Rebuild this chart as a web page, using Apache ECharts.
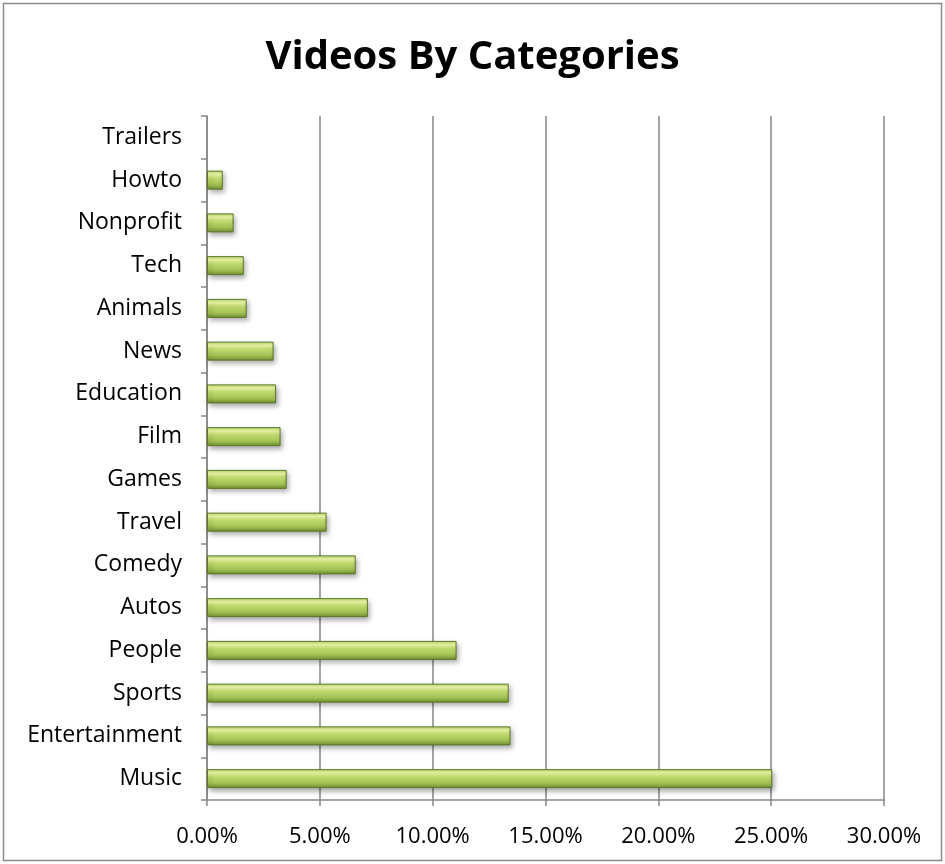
<!DOCTYPE html>
<html>
<head>
<meta charset="utf-8">
<script src="https://cdn.jsdelivr.net/npm/echarts@6/dist/echarts.min.js"></script>
<style>
html,body{margin:0;padding:0;background:#fff;}
#c{width:945px;height:864px;}
</style>
</head>
<body>
<div id="c"></div>
<script>
const titleText = 'Videos By Categories';
const categories = ['Music','Entertainment','Sports','People','Autos','Comedy','Travel','Games','Film','Education','News','Animals','Tech','Nonprofit','Howto','Trailers'];
const values = [25.05, 13.45, 13.37, 11.06, 7.13, 6.59, 5.30, 3.53, 3.26, 3.06, 2.95, 1.76, 1.63, 1.18, 0.70, 0];
const xTicks = [0, 5, 10, 15, 20, 25, 30];

const chart = echarts.init(document.getElementById('c'), null, {renderer:'canvas'});
const FONT = '"Open Sans", Lato, sans-serif';
chart.setOption({
  backgroundColor:'#ffffff',
  animation:false,
  graphic:[{type:'rect', shape:{x:3.5,y:3.5,width:938,height:857}, style:{fill:null, stroke:'#8c8c8c', lineWidth:1.5}, silent:true}],
  title:{text:titleText, left:'center', top:33, textStyle:{fontFamily:FONT, fontWeight:'bold', fontSize:40, color:'#000'}},
  grid:{left:207, right:61, top:116, bottom:64, containLabel:false},
  xAxis:{type:'value', min:xTicks[0], max:xTicks[xTicks.length-1], interval:5,
    axisLine:{show:true, lineStyle:{color:'#868686', width:1.5}},
    axisTick:{show:true, length:6, lineStyle:{color:'#868686', width:1.5}},
    splitLine:{show:true, lineStyle:{color:'#868686', width:1.5}},
    axisLabel:{formatter:v=>v.toFixed(2)+'%', fontFamily:FONT, fontSize:22, color:'#000', margin:26}
  },
  yAxis:{type:'category', data:categories,
    axisLine:{show:true, lineStyle:{color:'#868686', width:1.5}},
    axisTick:{show:true, length:6, lineStyle:{color:'#868686', width:1.5}},
    axisLabel:{fontFamily:FONT, fontSize:23, color:'#000', margin:25, padding:[8,0,0,0]},
    splitLine:{show:false}
  },
  series:[{type:'bar', barWidth:19,
    data:values.map(v => v === 0 ? {value:v, itemStyle:{borderWidth:0, shadowBlur:0, opacity:0}} : v),
    itemStyle:{
      color:new echarts.graphic.LinearGradient(0,0,0,1,[
        {offset:0, color:'#b9d66a'},
        {offset:0.2, color:'#f0fca8'},
        {offset:0.4, color:'#c2dc70'},
        {offset:0.75, color:'#a0bf52'},
        {offset:1, color:'#6f8c31'}
      ]),
      borderColor:'#5d7628', borderWidth:1,
      shadowColor:'rgba(0,0,0,0.35)', shadowBlur:5, shadowOffsetX:2, shadowOffsetY:3
    }
  }]
});
</script>
</body>
</html>
